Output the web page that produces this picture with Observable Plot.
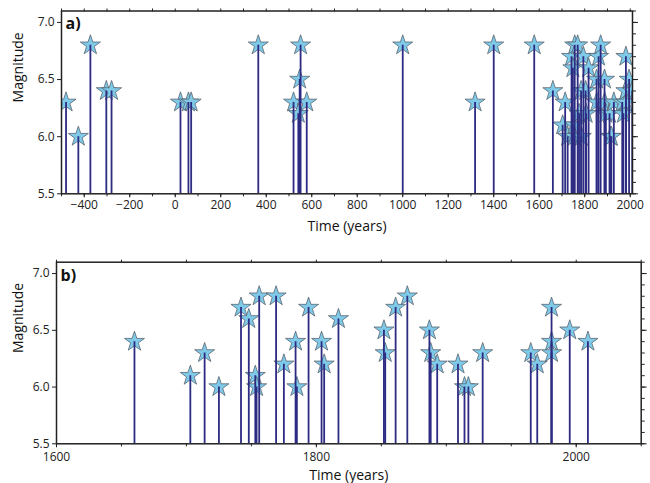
<!DOCTYPE html>
<html><head><meta charset="utf-8">
<script src="https://cdn.jsdelivr.net/npm/d3@7"></script>
<script src="https://cdn.jsdelivr.net/npm/@observablehq/plot@0.6"></script>
<style>
body{margin:0;background:#fff;}
#chart{width:650px;}
#chart svg{display:block;}
</style>
</head><body><div id="chart"></div>
<script>
// Earthquake years and magnitudes
const years = [-480,-426,-373,-303,-280,23,58,70,365,520,541,547,551,578,1000,1318,1400,1578,
  1660,1703,1714,1725,1742,1748,1753,1754,1756,1769,1775,1784,1785,1794,1804,1806,1817,
  1852,1853,1861,1870,1887,1888,1893,1909,1914,1917,1928,1965,1970,1981,1981,1981,1995,2009];
const mags = [6.3,6.0,6.8,6.4,6.4,6.3,6.3,6.3,6.8,6.3,6.2,6.5,6.8,6.3,6.8,6.3,6.8,6.8,
  6.4,6.1,6.3,6.0,6.7,6.6,6.1,6.0,6.8,6.8,6.2,6.4,6.0,6.7,6.4,6.2,6.6,
  6.5,6.3,6.7,6.8,6.5,6.3,6.2,6.2,6.0,6.0,6.3,6.3,6.2,6.7,6.4,6.3,6.5,6.4];
const xLabelsA = [-400,-200,0,200,400,600,800,1000,1200,1400,1600,1800,2000];
const xLabelsB = [1600,1800,2000];
const yLabels = [5.5,6.0,6.5,7.0];
const panelLetters = ["a)","b)"];
const xTitle = "Time (years)";
const yTitle = "Magnitude";

const events = years.map((y,i)=>({year:y, mag:mags[i]}));

const FONT = "'Open Sans', 'DejaVu Sans', sans-serif";
const STAR_FILL = "#7ecae8", STAR_STROKE = "#5a6570", LINE = "#2d2b82", INK = "#222";

function panel(o){
  const minorY = d3.range(55, 72).map(v=>v/10);
  return Plot.plot({
    width: 650, height: o.height,
    marginLeft: o.ml, marginRight: o.mr, marginTop: o.mt, marginBottom: o.mb,
    style: {fontFamily: FONT, fontSize: "12px", color: INK, background: "#fff"},
    x: {domain: o.domain},
    y: {domain: [5.5, 7.1]},
    marks: [
      Plot.dot(o.data, {x:"year", y:"mag", symbol:"star", r:6.3, fill:STAR_FILL, stroke:STAR_STROKE, strokeWidth:0.8, clip:true}),
      Plot.ruleX(o.data, {x:"year", y1:5.5, y2:"mag", stroke:LINE, strokeWidth:1.8, clip:true}),
      Plot.frame({stroke:INK, strokeWidth:1.5}),
      Plot.axisY({anchor:"left", ticks:yLabels, tickFormat:d3.format(".1f"), tickSize:4, tickPadding:3, label:null, fontSize:12}),
      Plot.axisY({anchor:"right", ticks:minorY, tickSize:3, tickFormat:()=>"", label:null}),
      Plot.axisY({anchor:"right", ticks:yLabels, tickSize:5, tickFormat:()=>"", label:null}),
      Plot.axisX({anchor:"bottom", ticks:o.xLabels, tickFormat:d=>d3.format("")(d).replace("-","\u2212"), tickSize:4, tickPadding:o.xPad, label:null, fontSize:12}),
      Plot.axisX({anchor:"bottom", ticks:o.minorX, tickSize:3, tickFormat:()=>"", label:null}),
      Plot.axisX({anchor:"top", ticks:o.minorX, tickSize:3, tickFormat:()=>"", label:null}),
      Plot.text([o.letter], {frameAnchor:"top-left", dx:4, dy:o.letterDy, lineAnchor:"middle", textAnchor:"start", fontWeight:"bold", fontSize:16, fill:"#111"}),
      Plot.text([xTitle], {frameAnchor:"bottom", dy:o.xtDy, lineAnchor:"middle", fontSize:14, fill:"#111"}),
      Plot.text([yTitle], {frameAnchor:"left", dx:o.ytDx, rotate:-90, lineAnchor:"middle", fontSize:14, fill:"#111"})
    ]
  });
}

const root = document.getElementById("chart");
root.appendChild(panel({
  data: events, domain:[-500, 2010], height:240,
  ml:61, mr:18, mt:10.5, mb:46.7, xPad:3,
  xLabels: xLabelsA, minorX: d3.range(-500, 2001, 100),
  letter: panelLetters[0], letterDy:13, xtDy:33, ytDx:-43
}));
root.appendChild(panel({
  data: events.filter(d=>d.year>=1600), domain:[1600, 2050], height:243,
  ml:56, mr:9.3, mt:21.7, mb:39.7, xPad:5,
  xLabels: xLabelsB, minorX: d3.range(1600, 2051, 50),
  letter: panelLetters[1], letterDy:14, xtDy:32, ytDx:-38
}));
</script>
</body></html>
